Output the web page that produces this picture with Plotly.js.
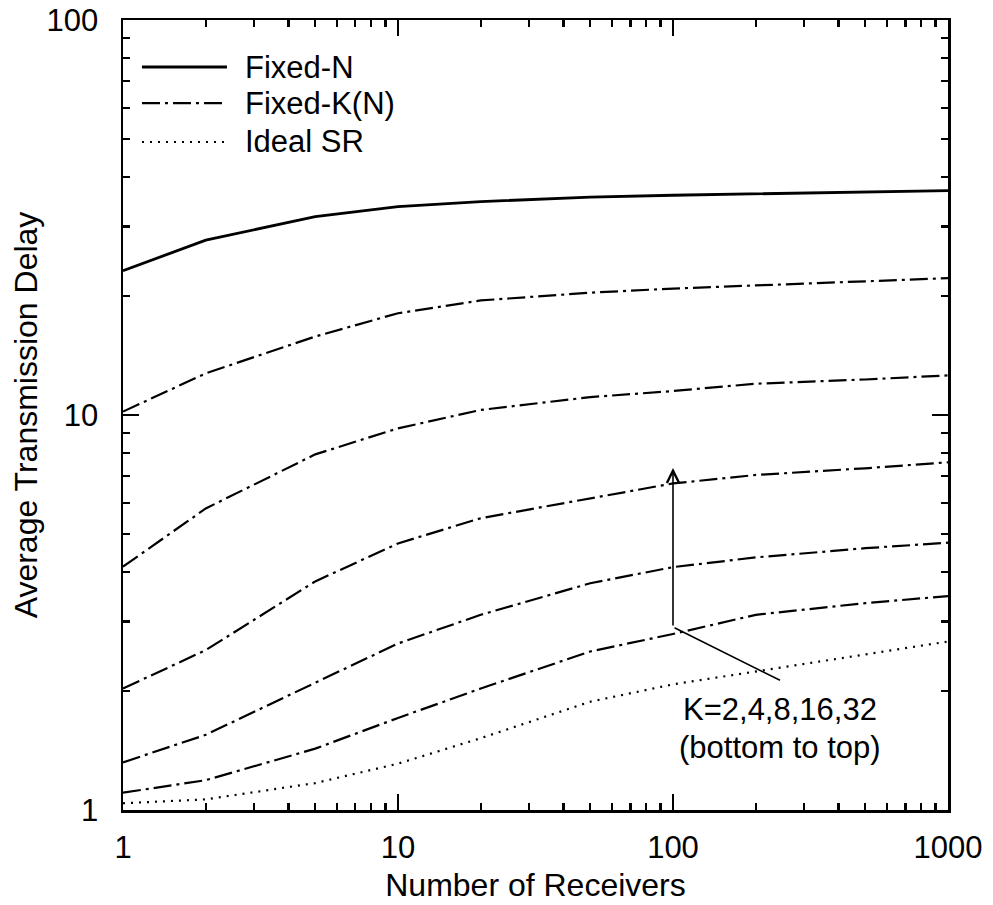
<!DOCTYPE html>
<html>
<head>
<meta charset="utf-8">
<script src="https://cdn.plot.ly/plotly-3.0.1.min.js"></script>
<style>
  html, body { margin: 0; padding: 0; background: #fff; }
  #chart { width: 993px; height: 905px; }
</style>
</head>
<body>
<div id="chart"></div>
<script>
// ---- Data ----
const receivers = [1, 2, 5, 10, 20, 50, 100, 200, 500, 1000];
const fixedN   = [23.2, 27.7, 31.8, 33.7, 34.7, 35.6, 36.0, 36.3, 36.7, 37.0];
const fixedK32 = [10.2, 12.75, 15.8, 18.1, 19.5, 20.4, 20.9, 21.3, 21.75, 22.2];
const fixedK16 = [4.13, 5.8, 7.95, 9.25, 10.3, 11.1, 11.5, 12.0, 12.3, 12.6];
const fixedK8  = [2.03, 2.54, 3.79, 4.73, 5.48, 6.15, 6.71, 7.05, 7.33, 7.59];
const fixedK4  = [1.32, 1.55, 2.10, 2.64, 3.12, 3.75, 4.12, 4.36, 4.6, 4.75];
const fixedK2  = [1.106, 1.19, 1.43, 1.71, 2.03, 2.52, 2.79, 3.12, 3.34, 3.48];
const idealSR  = [1.04, 1.064, 1.17, 1.31, 1.52, 1.88, 2.08, 2.24, 2.47, 2.67];

const legendNames = ["Fixed-N", "Fixed-K(N)", "Ideal SR"];
const xTitle = "Number of Receivers";
const yTitle = "Average Transmission Delay";
const noteLines = ["K=2,4,8,16,32", "(bottom to top)"];
const arrowX = 100, arrowBase = 2.905, arrowTip = 7.34;
const leaderEndX = 245, leaderEndY = 2.13;

// ---- Styles ----
const FONT = "Liberation Sans, Arial, Helvetica, sans-serif";
const solid = {color: "black", width: 2.8, dash: "solid"};
const dashdot = {color: "black", width: 2.2, dash: "18px,5px,3px,5px"};
const dotted = {color: "black", width: 2.2, dash: "2px,6px"};

function tr(y, line) {
  return {x: receivers, y: y, type: "scatter", mode: "lines", line: line,
          showlegend: false, hoverinfo: "skip"};
}
const data = [
  tr(fixedN, solid),
  tr(fixedK32, dashdot),
  tr(fixedK16, dashdot),
  tr(fixedK8, dashdot),
  tr(fixedK4, dashdot),
  tr(fixedK2, dashdot),
  tr(idealSR, dotted)
];

// manual legend (long line samples like the reference)
const legStyles = [solid, dashdot, dotted];
const legY = [0.9405, 0.8949, 0.8456];
const shapes = [];
const annotations = [];
legendNames.forEach((nm, i) => {
  shapes.push({type: "line", xref: "paper", yref: "paper",
    x0: 0.023, x1: 0.126, y0: legY[i], y1: legY[i],
    line: {color: "black", width: legStyles[i].width, dash: legStyles[i].dash}});
  annotations.push({xref: "paper", yref: "paper", x: 0.146, y: legY[i],
    xanchor: "left", yanchor: "middle", showarrow: false, text: nm,
    font: {family: FONT, size: 31, color: "black"}});
});

// arrow and leader line (annotation coordinates are log10 on log axes)
annotations.push({xref: "x", yref: "y", axref: "x", ayref: "y",
  x: Math.log10(arrowX), y: Math.log10(arrowTip),
  ax: Math.log10(arrowX), ay: Math.log10(arrowBase),
  text: "", showarrow: true, arrowhead: 5, arrowsize: 1.5, arrowwidth: 1.6,
  arrowcolor: "black", standoff: 0, startstandoff: 0});
annotations.push({xref: "x", yref: "y", axref: "x", ayref: "y",
  x: Math.log10(leaderEndX), y: Math.log10(leaderEndY),
  ax: Math.log10(arrowX), ay: Math.log10(arrowBase),
  text: "", showarrow: true, arrowhead: 0, arrowwidth: 1.6,
  arrowcolor: "black", standoff: 0, startstandoff: 0});
annotations.push({xref: "paper", yref: "paper", x: 0.796, y: 0.1266,
  xanchor: "center", yanchor: "middle", showarrow: false,
  text: noteLines[0], font: {family: FONT, size: 31, color: "black"}});
annotations.push({xref: "paper", yref: "paper", x: 0.796, y: 0.0785,
  xanchor: "center", yanchor: "middle", showarrow: false,
  text: noteLines[1], font: {family: FONT, size: 31, color: "black"}});

const axisCommon = {
  type: "log", showgrid: false, zeroline: false,
  showline: true, linecolor: "black", linewidth: 2.5, mirror: "allticks",
  ticks: "inside", ticklen: 16, tickwidth: 2.5, tickcolor: "black",
  tickmode: "linear", tick0: 0, dtick: 1, exponentformat: "none",
  tickfont: {family: FONT, size: 31, color: "black"},
  minor: {ticks: "inside", ticklen: 7, tickwidth: 2.2, tickcolor: "black", dtick: "D1", showgrid: false}
};

const layout = {
  width: 993, height: 905,
  margin: {l: 123, r: 45, t: 20, b: 95, pad: 0},
  paper_bgcolor: "white", plot_bgcolor: "white",
  font: {family: FONT, size: 31, color: "black"},
  showlegend: false,
  xaxis: Object.assign({}, axisCommon, {
    range: [0, 3], ticklabelstandoff: 8,
    title: {text: xTitle, font: {family: FONT, size: 32, color: "black"}, standoff: 10}
  }),
  yaxis: Object.assign({}, axisCommon, {
    range: [0, 2], ticklabelstandoff: 16,
    title: {text: yTitle, font: {family: FONT, size: 32, color: "black"}, standoff: 0}
  }),
  shapes: shapes,
  annotations: annotations
};

Plotly.newPlot("chart", data, layout, {staticPlot: true, displayModeBar: false});
</script>
</body>
</html>
